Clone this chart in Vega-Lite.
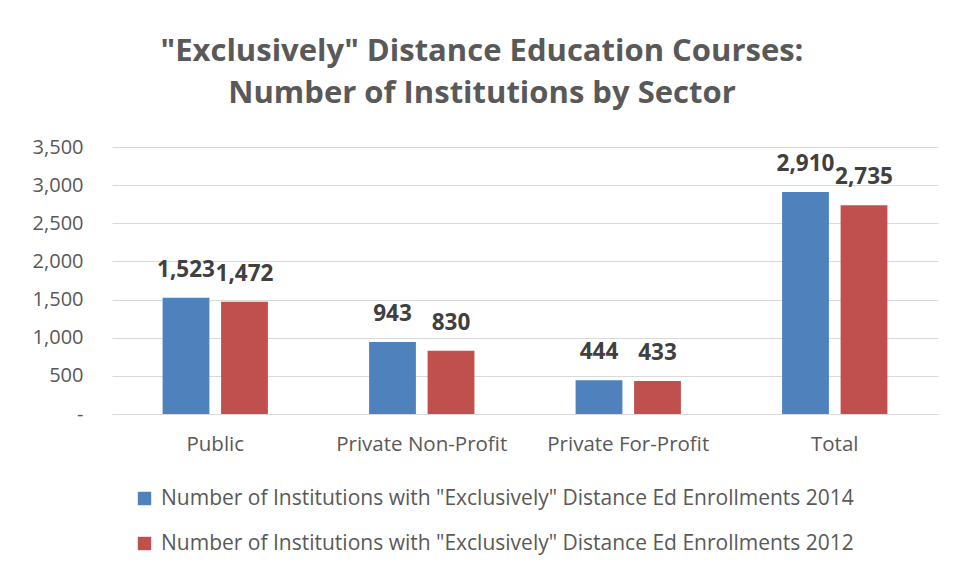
{
  "$schema": "https://vega.github.io/schema/vega-lite/v6.json",
  "width": 826,
  "height": 267,
  "autosize": {"type": "none"},
  "padding": {"left": 112, "top": 147, "right": 19, "bottom": 161},
  "background": "white",
  "title": {
    "text": ["\"Exclusively\" Distance Education Courses:", "Number of Institutions by Sector"],
    "anchor": "middle",
    "dx": -43,
    "fontSize": 31,
    "fontWeight": "bold",
    "font": "Open Sans",
    "color": "#595959",
    "lineHeight": 42,
    "offset": 27
  },
  "data": {
    "values": [
      {"sector": "Public", "series": "Number of Institutions with \"Exclusively\" Distance Ed Enrollments 2014", "value": 1523},
      {"sector": "Public", "series": "Number of Institutions with \"Exclusively\" Distance Ed Enrollments 2012", "value": 1472},
      {"sector": "Private Non-Profit", "series": "Number of Institutions with \"Exclusively\" Distance Ed Enrollments 2014", "value": 943},
      {"sector": "Private Non-Profit", "series": "Number of Institutions with \"Exclusively\" Distance Ed Enrollments 2012", "value": 830},
      {"sector": "Private For-Profit", "series": "Number of Institutions with \"Exclusively\" Distance Ed Enrollments 2014", "value": 444},
      {"sector": "Private For-Profit", "series": "Number of Institutions with \"Exclusively\" Distance Ed Enrollments 2012", "value": 433},
      {"sector": "Total", "series": "Number of Institutions with \"Exclusively\" Distance Ed Enrollments 2014", "value": 2910},
      {"sector": "Total", "series": "Number of Institutions with \"Exclusively\" Distance Ed Enrollments 2012", "value": 2735}
    ]
  },
  "encoding": {
    "x": {
      "field": "sector",
      "type": "nominal",
      "sort": ["Public", "Private Non-Profit", "Private For-Profit", "Total"],
      "scale": {"paddingInner": 0.49, "paddingOuter": 0.245},
      "axis": {
        "title": null,
        "labelAngle": 0,
        "labelFont": "Open Sans",
        "labelFontSize": 20.5,
        "labelColor": "#595959",
        "labelPadding": 20,
        "ticks": false,
        "domainColor": "#d9d9d9",
        "domainWidth": 1
      }
    },
    "xOffset": {
      "field": "series",
      "type": "nominal",
      "sort": ["Number of Institutions with \"Exclusively\" Distance Ed Enrollments 2014", "Number of Institutions with \"Exclusively\" Distance Ed Enrollments 2012"],
      "scale": {"paddingInner": 0.2, "paddingOuter": 0}
    },
    "y": {
      "field": "value",
      "type": "quantitative",
      "scale": {"domain": [0, 3500], "nice": false},
      "axis": {
        "title": null,
        "values": [0, 500, 1000, 1500, 2000, 2500, 3000, 3500],
        "labelExpr": "datum.value == 0 ? '-' : format(datum.value, ',')",
        "labelFont": "Open Sans",
        "labelFontSize": 20,
        "labelColor": "#595959",
        "labelPadding": 29,
        "ticks": false,
        "domain": false,
        "gridColor": "#d9d9d9",
        "gridWidth": 1
      }
    }
  },
  "layer": [
    {
      "mark": {"type": "bar"},
      "encoding": {
        "color": {
          "field": "series",
          "type": "nominal",
          "sort": ["Number of Institutions with \"Exclusively\" Distance Ed Enrollments 2014", "Number of Institutions with \"Exclusively\" Distance Ed Enrollments 2012"],
          "scale": {"range": ["#4F81BD", "#C0504D"]},
          "legend": {
            "title": null,
            "orient": "none",
            "legendX": 22,
            "legendY": 341,
            "direction": "vertical",
            "symbolType": "square",
            "symbolSize": 180,
            "symbolStrokeWidth": 0,
            "labelFont": "Open Sans",
            "labelFontSize": 21,
            "labelColor": "#595959",
            "labelLimit": 900,
            "rowPadding": 23,
            "labelOffset": 6
          }
        }
      }
    },
    {
      "mark": {"type": "text", "dy": -16, "fontWeight": "bold", "fontSize": 22.5, "font": "Open Sans", "color": "#404040", "baseline": "bottom"},
      "encoding": {
        "text": {"field": "value", "type": "quantitative", "format": ","}
      }
    }
  ],
  "config": {
    "view": {"stroke": null}
  }
}
